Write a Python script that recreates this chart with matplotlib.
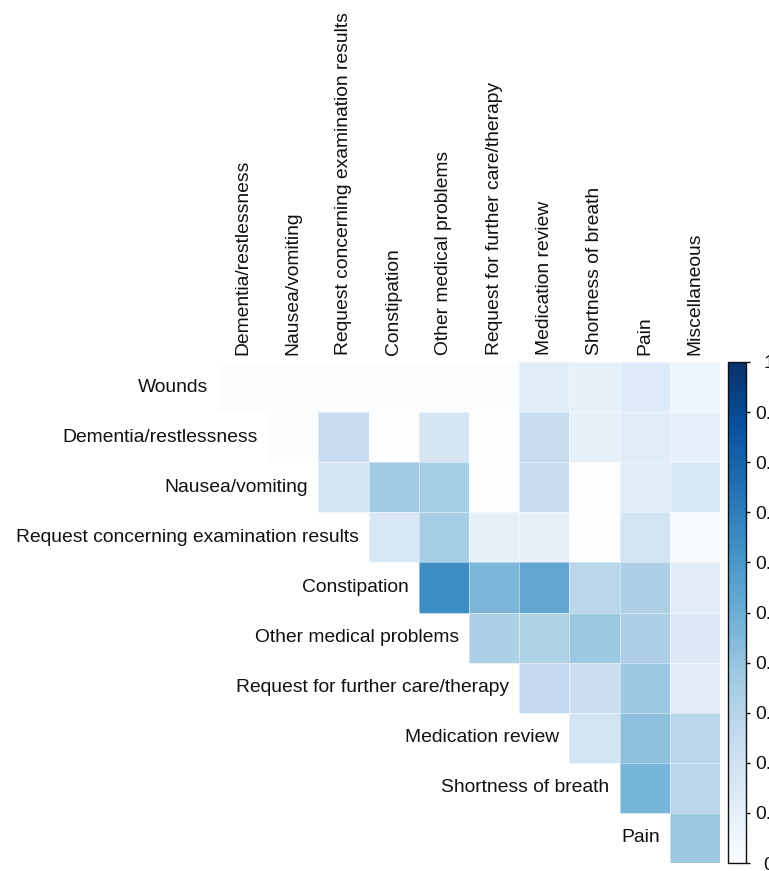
import numpy as np
import matplotlib
matplotlib.use("Agg")
import matplotlib.pyplot as plt
from matplotlib.colors import LinearSegmentedColormap

plt.rcParams['font.family'] = ['Liberation Sans', 'DejaVu Sans']

# Topic categories (rows and columns of the triangular matrix)
row_labels = [
    "Wounds",
    "Dementia/restlessness",
    "Nausea/vomiting",
    "Request concerning examination results",
    "Constipation",
    "Other medical problems",
    "Request for further care/therapy",
    "Medication review",
    "Shortness of breath",
    "Pain",
]
col_labels = [
    "Dementia/restlessness",
    "Nausea/vomiting",
    "Request concerning examination results",
    "Constipation",
    "Other medical problems",
    "Request for further care/therapy",
    "Medication review",
    "Shortness of breath",
    "Pain",
    "Miscellaneous",
]

# Co-occurrence values, upper triangle: row i holds columns i..9
wounds = [0.01, 0.01, 0.01, 0.01, 0.01, 0.01, 0.12, 0.09, 0.13, 0.06]
dementia = [0.01, 0.24, 0.0, 0.17, 0.0, 0.24, 0.09, 0.12, 0.10]
nausea = [0.17, 0.37, 0.35, 0.0, 0.24, 0.0, 0.12, 0.16]
request_exam = [0.16, 0.35, 0.09, 0.09, 0.0, 0.19, 0.03]
constipation = [0.64, 0.46, 0.53, 0.29, 0.33, 0.11]
other_medical = [0.33, 0.32, 0.38, 0.33, 0.14]
further_care = [0.26, 0.22, 0.38, 0.11]
medication = [0.19, 0.42, 0.29]
breath = [0.47, 0.29]
pain = [0.38]

rows = [wounds, dementia, nausea, request_exam, constipation,
        other_medical, further_care, medication, breath, pain]

n = len(row_labels)
matrix = np.full((n, n), np.nan)
for i, vals in enumerate(rows):
    matrix[i, i:i + len(vals)] = vals
masked = np.ma.masked_invalid(matrix)

cmap = LinearSegmentedColormap.from_list(
    "blues_white",
    ['#fcfdff', '#deebf7', '#c6dbef', '#9ecae1', '#6baed6',
     '#4292c6', '#2171b5', '#08519c', '#08306b'])

W, H = 769, 871
fig = plt.figure(figsize=(W / 100, H / 100), dpi=100)

ax = fig.add_axes([218 / W, (H - 863) / H, 502 / W, 501 / H])
mesh = ax.pcolormesh(np.arange(n + 1), np.arange(n + 1), masked,
                     cmap=cmap, vmin=0, vmax=1,
                     edgecolors=(1, 1, 1, 0.45), linewidth=0.5)
ax.set_xlim(0, n)
ax.set_ylim(n, 0)
ax.axis('off')

fs = 13.9
for j, lab in enumerate(col_labels):
    ax.text(j + 0.5, -0.14, lab, rotation=90, ha='center', va='bottom',
            fontsize=fs, color='#111111')
for i, lab in enumerate(row_labels):
    ax.text(i - 0.2, i + 0.5, lab, ha='right', va='center',
            fontsize=fs, color='#111111')

cax = fig.add_axes([728 / W, (H - 863) / H, 18 / W, 501 / H])
ticks = np.round(np.linspace(0, 1, 11), 1)
cbar = fig.colorbar(mesh, cax=cax, ticks=ticks)
cbar.ax.set_yticklabels(["0" if t == 0 else ("1" if t == 1 else f"{t:.1f}")
                         for t in ticks])
cbar.ax.tick_params(length=3, width=1, pad=13.5, labelsize=fs, colors='#111111')
for lbl in cbar.ax.get_yticklabels():
    lbl.set_horizontalalignment('center')
cbar.outline.set_linewidth(1.0)
cbar.outline.set_edgecolor('#111111')

fig.savefig("out.png", dpi=100)
